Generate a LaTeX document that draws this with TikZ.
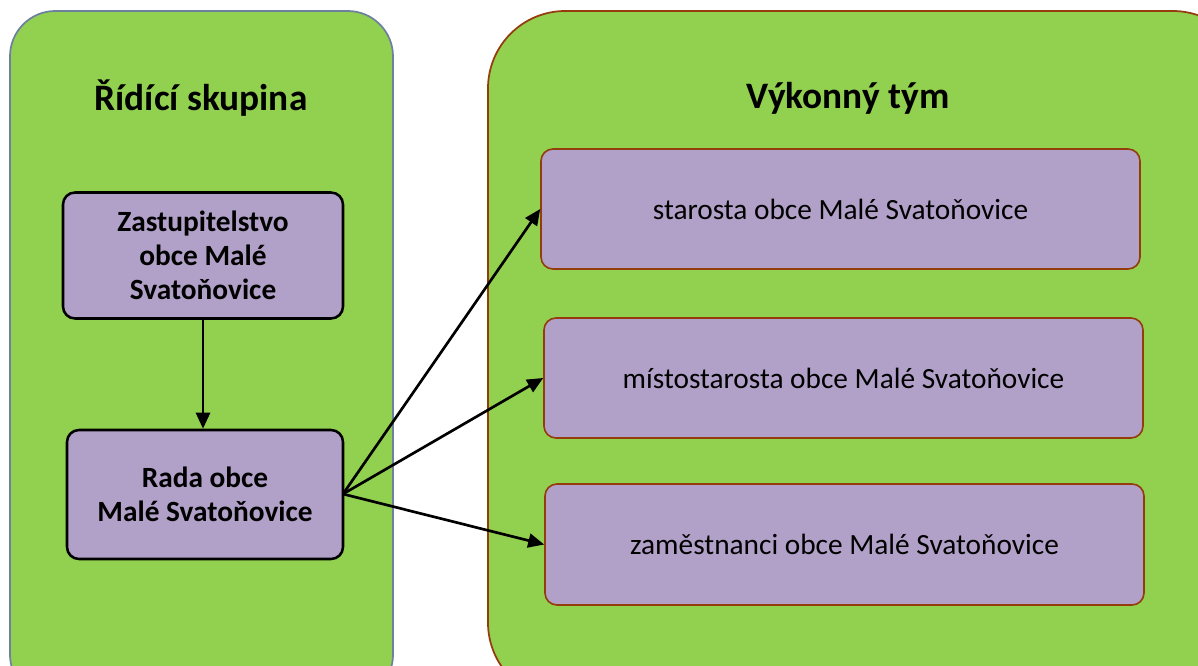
\documentclass[tikz,border=0pt]{standalone}
\usepackage{fontspec}
\setmainfont{Carlito}
\usetikzlibrary{arrows.meta}
\definecolor{panelgreen}{HTML}{92D050}
\definecolor{boxpurple}{HTML}{B1A0C7}
\definecolor{bluegrey}{HTML}{6D819E}
\definecolor{rust}{HTML}{943C0C}
\tikzset{
  panelL/.style={draw=bluegrey, fill=panelgreen, line width=1.3pt, rounded corners=34pt},
  panelR/.style={draw=rust, fill=panelgreen, line width=1.3pt, rounded corners=58pt},
  leftbox/.style={draw=black, fill=boxpurple, line width=1.9pt, rounded corners=9pt, align=center, font=\fontsize{22}{25.5}\selectfont\bfseries},
  rightbox/.style={draw=rust, fill=boxpurple, line width=1.2pt, rounded corners=9pt, align=center, font=\fontsize{22}{26}\selectfont},
  title/.style={font=\fontsize{28}{32}\selectfont\bfseries},
  conn/.style={line width=2pt, -{Triangle[length=12pt, width=10.5pt]}}
}
\begin{document}
\begin{tikzpicture}[x=0.75pt, y=-0.75pt]
\useasboundingbox (0,0) rectangle (1198,666);
\path[panelL] (10,11) rectangle (393,700);
\path[panelR] (488,11) rectangle (1250,700);
\node[title] (tL) at (201,98) {Řídící skupina};
\node[title] (tR) at (848,98) {Výkonný tým};
\node[leftbox, minimum width=280*0.75pt, minimum height=126*0.75pt] (zast) at (203,255.5) {Zastupitelstvo\\obce Malé\\Svatoňovice};
\node[leftbox, minimum width=276*0.75pt, minimum height=129*0.75pt] (rada) at (205,494.5) {Rada obce\\Malé Svatoňovice};
\node[rightbox, minimum width=599*0.75pt, minimum height=120*0.75pt] (star) at (840.5,209) {starosta obce Malé Svatoňovice};
\node[rightbox, minimum width=599*0.75pt, minimum height=120*0.75pt] (mist) at (843.5,378) {místostarosta obce Malé Svatoňovice};
\node[rightbox, minimum width=599*0.75pt, minimum height=121*0.75pt] (zam) at (844.5,544.5) {zaměstnanci obce Malé Svatoňovice};
\coordinate (src) at (343,494);
\draw[conn] (zast.south) -- (zast.south |- rada.north);
\draw[conn] (src) -- (star.west);
\draw[conn] (src) -- (mist.west);
\draw[conn] (src) -- (zam.west);
\end{tikzpicture}
\end{document}
